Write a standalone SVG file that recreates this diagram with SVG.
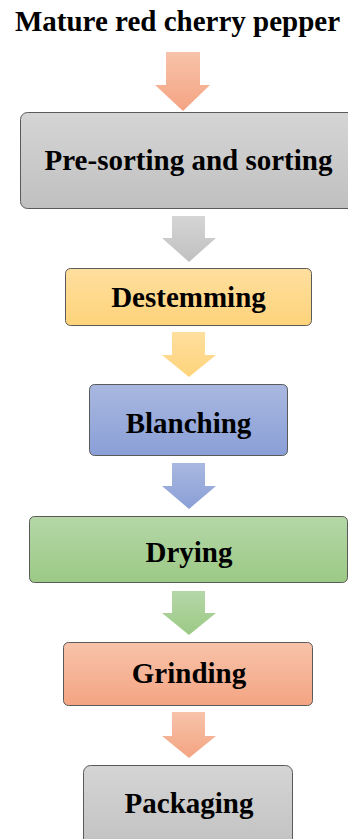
<svg xmlns="http://www.w3.org/2000/svg" width="348" height="839" viewBox="0 0 348 839">
<defs>
<linearGradient id="gGray" x1="0" y1="0" x2="0" y2="1"><stop offset="0" stop-color="#d5d5d5"/><stop offset="1" stop-color="#c0c0c0"/></linearGradient>
<linearGradient id="gYel" x1="0" y1="0" x2="0" y2="1"><stop offset="0" stop-color="#ffdf9f"/><stop offset="1" stop-color="#fed37a"/></linearGradient>
<linearGradient id="gBlue" x1="0" y1="0" x2="0" y2="1"><stop offset="0" stop-color="#a9b8e0"/><stop offset="1" stop-color="#8a9fd7"/></linearGradient>
<linearGradient id="gGreen" x1="0" y1="0" x2="0" y2="1"><stop offset="0" stop-color="#b5d7a8"/><stop offset="1" stop-color="#9cc985"/></linearGradient>
<linearGradient id="gSal" x1="0" y1="0" x2="0" y2="1"><stop offset="0" stop-color="#f7c3aa"/><stop offset="1" stop-color="#f4a482"/></linearGradient>
</defs>
<style>
.box{stroke:#5a5a5a;stroke-width:1}
.lbl{font-family:"Liberation Serif","Times New Roman",serif;font-weight:bold;font-size:29px;fill:#000;text-anchor:middle}
.title{font-family:"Liberation Serif","Times New Roman",serif;font-weight:bold;font-size:29px;fill:#000;text-anchor:middle}
</style>
<text class="title" x="177.5" y="31">Mature red cherry pepper</text>
<g id="connectors">
<path d="M166,52 H200 V85 H210 L183,111 L155,85 H166 Z" fill="url(#gSal)"/>
<path d="M172,216 H205 V238 H216 L189,262 L162,238 H172 Z" fill="url(#gGray)"/>
<path d="M172,332 H205 V355 H216 L189,377 L162,355 H172 Z" fill="url(#gYel)"/>
<path d="M172,463 H205 V486 H216 L189,509 L162,486 H172 Z" fill="url(#gBlue)"/>
<path d="M172,591 H205 V613 H216 L189,635 L162,613 H172 Z" fill="url(#gGreen)"/>
<path d="M172,712 H205 V736 H216 L189,758 L162,736 H172 Z" fill="url(#gSal)"/>
</g>
<g id="n1"><rect class="box" x="20.5" y="112.5" width="340" height="96" rx="7" fill="url(#gGray)"/><text class="lbl" x="188.5" y="170">Pre-sorting and sorting</text></g>
<g id="n2"><rect class="box" x="65.5" y="268.5" width="246" height="57" rx="5" fill="url(#gYel)"/><text class="lbl" x="188.5" y="307">Destemming</text></g>
<g id="n3"><rect class="box" x="89.5" y="384.5" width="198" height="71" rx="5" fill="url(#gBlue)"/><text class="lbl" x="188.5" y="433">Blanching</text></g>
<g id="n4"><rect class="box" x="29.5" y="516.5" width="318" height="66" rx="5" fill="url(#gGreen)"/><text class="lbl" x="189" y="562">Drying</text></g>
<g id="n5"><rect class="box" x="63.5" y="642.5" width="249" height="63" rx="5" fill="url(#gSal)"/><text class="lbl" x="189" y="683">Grinding</text></g>
<g id="n6"><rect class="box" x="83.5" y="765.5" width="209" height="90" rx="7" fill="url(#gGray)"/><text class="lbl" x="189" y="813">Packaging</text></g>
</svg>
